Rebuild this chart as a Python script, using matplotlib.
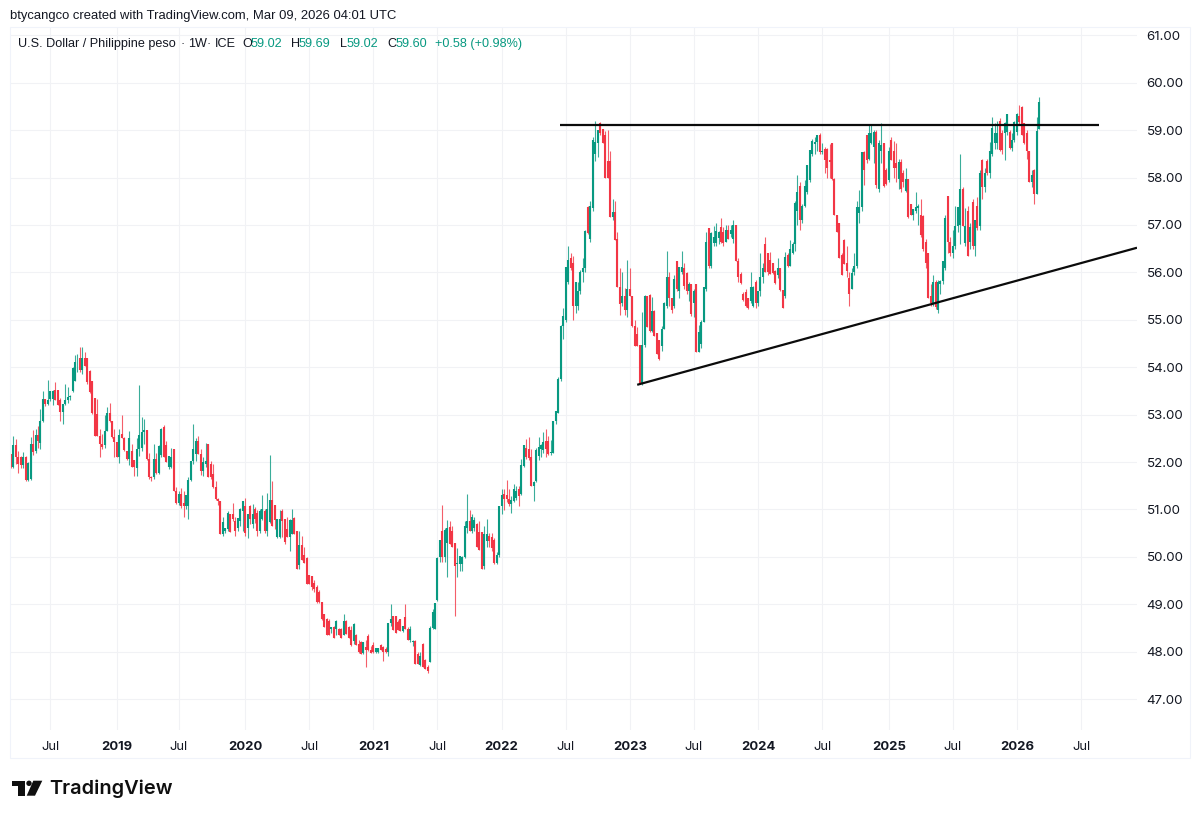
import matplotlib
matplotlib.use("Agg")
import matplotlib.pyplot as plt
from matplotlib.patches import Polygon, Circle, Rectangle

opens = [
52.17,51.90,52.36,52.11,52.10,51.94,52.10,51.62,51.65,52.38,
52.24,52.58,52.40,52.87,53.33,53.22,53.32,53.32,53.51,53.52,
53.30,53.05,53.23,53.30,53.37,53.50,53.70,54.10,54.20,53.95,
54.20,54.20,53.93,53.72,53.35,53.01,52.56,52.38,52.35,52.66,
53.04,52.87,52.52,52.42,52.10,52.59,52.50,52.24,52.06,52.24,
52.05,51.87,52.27,52.30,52.63,52.68,52.06,51.68,51.68,52.06,
51.76,52.15,52.73,52.35,51.90,51.90,52.27,51.40,51.13,51.32,
51.13,51.08,51.08,51.63,52.03,52.17,52.45,52.17,51.82,51.96,
52.38,51.95,51.75,51.47,51.22,51.18,50.48,50.55,50.58,50.90,
50.90,50.76,50.60,50.76,50.97,51.08,50.60,51.08,50.70,51.00,
50.92,50.54,50.80,50.96,50.55,50.73,51.19,51.10,50.42,50.42,
50.96,50.80,50.58,50.42,50.49,50.83,50.54,49.82,50.26,50.03,
49.98,49.62,49.60,49.46,49.36,49.27,49.05,48.80,48.70,48.65,
48.48,48.53,48.48,48.48,48.48,48.36,48.65,48.53,48.46,48.23,
48.35,48.16,48.20,47.97,48.09,48.34,48.03,48.15,47.99,48.00,
48.14,48.09,48.06,48.00,48.60,48.75,48.75,48.63,48.70,48.43,
48.73,48.48,48.25,48.20,48.22,47.95,47.72,48.16,47.82,47.67,
47.78,48.50,48.48,49.09,50.00,50.55,50.00,50.30,50.63,50.55,
50.30,49.85,49.85,49.85,50.00,50.62,50.76,50.55,50.60,50.70,
50.53,50.53,49.80,50.33,50.45,50.42,50.36,49.88,50.03,51.08,
51.32,51.31,51.22,51.12,51.18,51.25,51.43,51.32,51.92,52.30,
52.27,52.10,51.50,51.60,52.13,52.27,52.25,52.44,52.44,52.20,
52.20,52.86,53.04,53.75,54.88,55.00,55.80,56.30,56.20,55.30,
55.30,55.60,56.00,56.10,57.38,56.70,57.35,58.50,58.72,59.15,
59.03,58.90,58.35,58.35,57.17,57.27,56.70,55.69,55.35,55.50,
55.20,55.65,55.50,54.88,54.70,54.47,53.65,54.46,55.50,55.52,
54.76,55.18,54.72,54.57,54.44,54.80,55.30,55.90,55.45,55.30,
56.23,55.60,56.00,56.10,55.98,55.60,55.75,55.35,55.75,54.33,
54.50,54.95,55.65,56.94,56.13,56.62,56.62,56.72,56.95,56.85,
56.65,56.90,56.80,56.70,57.00,56.25,55.97,55.55,55.58,55.47,
55.40,55.30,55.80,55.35,55.60,55.90,56.60,56.40,56.27,56.20,
56.02,55.95,56.10,55.62,55.50,56.36,56.14,56.40,56.60,57.30,
57.83,57.10,57.40,57.70,57.95,58.50,58.70,58.75,58.90,58.53,
58.60,58.60,58.37,58.72,57.98,57.20,57.05,56.37,56.68,56.20,
55.88,55.65,56.00,56.13,57.25,57.38,58.54,58.90,58.40,58.72,
58.65,58.97,57.75,58.55,58.72,58.15,57.95,58.80,58.55,58.30,
57.97,58.33,58.10,57.72,57.97,57.45,57.20,57.30,57.35,57.20,
57.18,56.65,56.40,55.50,55.35,55.80,55.20,55.75,55.82,56.10,
57.62,56.65,56.40,56.55,56.97,57.00,57.75,56.62,57.30,56.65,
57.48,56.55,57.40,56.97,58.37,57.80,58.35,58.10,58.50,58.72,
58.72,59.20,58.93,58.93,58.97,58.97,58.62,58.80,58.97,59.30,
59.48,59.14,58.93,58.55,57.90,58.15,57.65,59.02]

closes = [
51.90,52.36,52.11,51.96,51.94,52.10,51.62,51.98,52.38,52.22,
52.58,52.45,52.87,53.33,53.22,53.30,53.50,53.50,53.30,53.20,
53.05,53.23,53.30,53.37,53.40,53.98,54.10,54.10,53.95,54.20,
54.03,53.68,53.47,53.03,52.56,52.56,52.38,52.31,52.66,53.03,
52.87,52.52,52.42,52.10,52.58,52.50,52.25,52.06,52.50,51.90,
51.89,52.27,52.58,52.63,52.68,52.06,51.68,51.67,52.06,51.76,
52.34,52.70,52.10,52.00,52.13,52.10,51.40,51.13,51.32,51.08,
51.08,51.30,51.63,52.03,52.27,52.44,52.17,51.82,52.00,52.03,
51.68,51.68,51.47,51.22,51.18,50.48,50.73,50.60,50.93,50.52,
50.80,50.55,50.83,51.00,51.18,50.50,50.90,50.80,50.90,50.80,
50.54,50.96,51.00,50.54,51.00,51.19,50.66,50.77,50.80,50.80,
50.75,50.31,50.42,50.77,50.77,50.49,49.75,50.26,49.94,49.88,
49.43,49.43,49.36,49.32,49.04,49.04,48.69,48.53,48.35,48.35,
48.53,48.30,48.65,48.36,48.30,48.65,48.37,48.30,48.14,48.58,
48.15,47.99,47.96,48.20,48.03,48.03,47.98,47.99,48.08,48.08,
48.04,48.00,48.00,48.60,48.70,48.46,48.40,48.46,48.43,48.55,
48.48,48.25,48.48,48.22,47.75,47.75,47.90,47.67,47.64,47.60,
48.50,48.84,49.02,49.98,50.35,50.00,50.57,50.60,50.27,50.20,
49.80,49.88,50.02,50.00,50.66,50.76,50.55,50.85,50.77,50.20,
50.15,49.75,50.48,50.48,50.33,50.18,49.88,50.03,51.07,51.31,
51.22,51.22,51.11,51.20,51.43,51.40,51.29,51.94,52.35,52.10,
52.09,51.50,51.59,52.25,52.31,52.35,52.42,52.27,52.17,52.22,
52.87,53.07,53.75,54.88,55.07,56.11,56.27,56.10,55.30,55.80,
55.60,56.00,56.10,56.87,56.83,57.40,58.80,58.75,59.00,58.93,
58.72,58.00,58.00,57.17,57.27,56.68,55.70,55.34,55.50,55.20,
55.65,55.50,54.88,54.44,54.45,53.65,54.46,55.50,54.85,54.76,
55.18,54.65,54.28,54.17,54.80,55.35,55.90,55.45,55.20,55.87,
55.65,56.12,56.12,55.72,55.60,55.75,55.12,55.60,54.33,54.75,
54.95,55.70,56.65,56.13,56.83,56.75,56.87,56.85,56.65,56.63,
56.90,56.70,56.90,57.00,56.25,55.90,55.78,55.41,55.30,55.25,
55.70,55.70,55.35,55.60,55.90,56.10,56.00,56.00,55.97,55.98,
55.78,56.10,55.62,55.25,56.32,56.14,56.50,56.60,57.46,57.70,
57.10,57.40,57.83,58.27,58.58,58.78,58.75,58.90,58.53,58.56,
58.37,58.20,58.33,57.96,57.20,56.85,56.30,55.95,56.17,56.03,
55.55,55.99,56.13,57.38,57.38,58.54,58.15,58.37,58.93,58.93,
58.97,57.85,58.72,58.68,57.83,57.87,58.55,58.38,58.20,58.20,
58.33,57.75,57.90,57.97,57.17,57.22,57.33,57.38,57.40,56.78,
56.50,56.20,55.45,55.35,55.80,55.27,55.80,55.82,56.25,57.15,
56.65,56.40,56.55,56.97,57.38,57.75,56.98,56.97,56.35,56.95,
56.55,57.10,56.93,58.10,57.80,58.10,58.10,58.55,59.05,58.93,
58.93,58.58,58.58,59.14,59.35,58.62,58.80,59.18,59.35,59.18,
58.90,58.72,58.55,57.90,58.05,57.65,58.99,59.60]

highs = [
52.17,52.55,52.49,52.24,52.12,52.22,52.12,52.00,52.53,52.67,
52.70,52.76,53.12,53.50,53.33,53.73,53.50,53.52,53.68,53.52,
53.35,53.23,53.65,53.58,53.42,54.00,54.25,54.27,54.42,54.42,
54.32,54.20,53.95,53.72,53.35,53.33,52.70,52.60,53.00,53.16,
53.24,52.87,52.70,52.42,52.70,53.00,52.52,52.24,52.66,52.38,
52.05,52.50,53.62,52.95,52.90,52.68,52.20,51.70,52.38,52.20,
52.36,52.72,52.78,52.45,52.13,52.30,52.27,51.48,51.40,51.46,
51.38,51.30,51.68,52.03,52.80,52.50,52.56,52.27,52.10,52.40,
52.38,52.03,51.95,51.60,51.25,51.18,50.85,50.60,50.97,50.90,
51.13,50.85,50.83,51.03,51.18,51.25,50.90,51.10,51.12,51.05,
50.98,51.00,51.30,51.00,51.35,52.14,51.61,51.10,50.80,50.98,
51.00,50.80,50.85,50.80,51.00,50.85,50.54,50.55,50.45,50.20,
50.00,49.62,49.60,49.52,49.40,49.30,49.05,48.80,48.72,48.70,
48.53,48.55,48.68,48.50,48.50,48.80,48.67,48.55,48.55,48.60,
48.37,48.25,48.22,48.20,48.25,48.37,48.12,48.20,48.08,48.08,
48.17,48.12,48.10,48.60,49.00,48.75,48.75,48.67,48.70,48.55,
49.00,48.53,48.55,48.25,48.25,48.00,48.00,48.18,47.85,47.72,
48.55,48.90,49.02,50.00,50.35,51.10,50.60,50.77,50.75,50.65,
50.30,50.18,50.02,50.02,50.76,51.33,50.98,50.90,50.85,50.72,
50.75,50.53,50.66,50.80,50.50,50.50,50.40,50.10,51.08,51.43,
51.43,51.62,51.43,51.29,51.54,51.50,51.50,52.06,52.35,52.49,
52.53,52.28,51.60,52.30,52.53,52.38,52.63,52.70,52.56,52.46,
52.87,53.08,53.80,54.90,55.25,56.11,56.55,56.40,56.35,55.80,
55.80,56.05,56.30,56.90,57.40,57.50,58.85,59.20,59.00,59.17,
59.03,58.98,59.00,58.55,57.55,57.50,56.85,56.10,56.00,55.68,
56.27,56.10,55.50,55.00,54.85,54.47,55.17,55.52,55.50,55.55,
55.48,55.20,54.73,54.57,54.87,55.38,56.45,56.00,55.45,55.95,
56.23,56.12,56.45,56.20,56.00,55.80,55.75,55.65,55.75,54.90,
55.00,55.70,56.85,56.94,56.85,56.98,57.05,56.88,57.15,56.95,
57.00,57.00,57.00,57.10,57.00,56.30,56.00,55.58,55.65,55.47,
56.00,55.72,55.85,55.60,56.40,56.20,56.75,56.40,56.42,56.20,
56.05,56.30,56.10,55.60,56.43,56.40,56.68,56.65,57.50,58.05,
57.90,57.45,57.95,58.27,58.58,58.82,58.85,58.90,58.95,58.72,
58.65,58.62,58.70,58.72,58.00,57.20,57.05,56.40,56.70,56.55,
56.00,56.10,56.40,57.50,57.73,58.54,58.55,58.90,59.10,59.10,
59.00,59.00,58.80,59.15,58.72,58.20,58.65,58.85,58.78,58.72,
58.40,58.40,58.15,58.20,57.97,57.45,57.33,57.70,57.45,57.55,
57.20,56.70,56.40,55.75,55.95,55.85,55.85,55.85,56.25,57.20,
57.62,56.75,56.90,57.40,57.38,58.50,57.80,57.35,57.40,57.05,
57.55,57.10,57.60,58.15,58.40,58.20,58.40,58.75,59.27,59.15,
59.20,59.25,59.00,59.17,59.35,59.00,58.95,59.20,59.37,59.52,
59.50,59.15,59.00,58.55,58.15,58.18,59.28,59.69]

lows = [
51.88,51.88,51.95,51.78,51.88,51.88,51.60,51.60,51.62,52.15,
52.20,52.30,52.28,52.85,53.18,53.20,53.28,53.20,53.30,53.20,
52.87,52.80,53.20,53.25,53.30,53.47,53.70,53.90,53.90,53.85,
54.03,53.65,53.45,53.02,52.55,52.55,52.10,52.28,52.30,52.66,
52.85,52.50,52.10,52.10,51.98,52.50,52.24,52.04,51.93,51.89,
51.70,51.70,52.12,52.24,52.38,52.05,51.65,51.60,51.65,51.75,
51.75,52.10,52.10,52.00,51.85,51.88,51.40,51.12,51.10,51.03,
50.85,51.00,50.80,51.60,51.95,52.03,52.17,51.73,51.70,51.90,
51.68,51.65,51.45,51.20,51.10,50.48,50.45,50.50,50.55,50.52,
50.75,50.45,50.55,50.65,50.55,50.45,50.40,50.70,50.62,50.72,
50.45,50.50,50.78,50.50,50.45,50.72,50.66,50.58,50.40,50.40,
50.42,50.28,50.42,50.13,50.49,50.48,49.75,49.75,49.94,49.88,
49.43,49.42,49.30,49.25,49.02,49.02,48.68,48.53,48.35,48.35,
48.40,48.30,48.35,48.35,48.30,48.35,48.37,48.30,48.12,48.16,
48.14,47.98,47.95,47.95,47.67,48.02,47.98,47.98,47.97,47.97,
48.03,47.80,47.98,47.90,48.55,48.46,48.40,48.46,48.43,48.42,
48.48,48.25,48.20,48.13,47.75,47.75,47.70,47.67,47.63,47.55,
47.78,48.48,48.48,49.08,49.90,49.90,49.90,49.57,50.27,50.20,
48.76,49.57,49.70,49.70,49.98,50.50,50.55,50.50,50.55,50.20,
50.15,49.75,49.75,50.20,50.20,50.13,49.85,49.85,50.00,50.90,
50.98,51.15,51.08,50.93,51.15,51.20,51.08,51.30,51.90,52.06,
52.05,51.50,51.18,51.58,52.05,52.10,52.20,52.10,52.15,52.15,
52.20,52.80,53.04,53.72,54.60,54.95,55.75,56.05,55.00,55.15,
55.20,55.55,55.80,56.00,56.80,56.65,57.30,58.35,58.43,58.90,
58.72,58.00,58.00,57.17,57.10,56.68,55.69,55.10,55.30,55.10,
55.05,55.50,54.85,54.44,54.45,53.65,53.62,54.42,54.85,54.75,
54.75,54.65,54.28,54.15,54.35,54.80,55.25,55.30,55.15,55.25,
55.60,55.45,55.97,55.65,55.55,55.40,55.07,55.05,54.32,54.32,
54.40,54.95,55.60,56.10,56.10,56.55,56.55,56.60,56.62,56.55,
56.65,56.70,56.75,56.63,56.25,55.80,55.75,55.40,55.28,55.23,
55.35,55.27,55.25,55.30,55.50,55.78,56.00,55.95,55.97,55.97,
55.75,55.88,55.60,55.25,55.45,56.12,56.13,56.38,56.45,57.00,
56.90,57.05,57.38,57.65,57.90,58.45,58.50,58.55,58.50,58.50,
58.10,58.00,58.00,57.95,57.20,56.85,56.30,55.95,56.17,55.90,
55.30,55.65,55.95,56.10,57.05,57.30,57.85,58.30,58.38,58.70,
58.30,57.77,57.70,58.30,57.80,57.85,57.90,58.37,58.00,57.90,
57.75,57.70,57.80,57.70,57.15,57.20,57.10,57.25,57.00,56.75,
56.45,56.10,55.45,55.30,55.30,55.22,55.15,55.55,55.75,56.05,
56.40,56.35,56.30,56.50,56.85,56.60,56.97,56.55,56.35,56.50,
56.50,56.35,56.90,56.90,57.55,57.70,58.05,58.00,58.45,58.60,
58.60,58.55,58.50,58.37,58.90,58.60,58.55,58.75,58.90,59.10,
58.90,58.70,58.40,57.90,57.80,57.45,57.65,59.02]

y_ticks = list(range(47, 62))
x_tick_weeks = [16, 43, 68, 95, 121, 147, 173, 199, 225, 251, 277, 303, 329, 356, 382, 408, 434]
x_tick_labels = ["Jul", "2019", "Jul", "2020", "Jul", "2021", "Jul", "2022", "Jul",
                 "2023", "Jul", "2024", "Jul", "2025", "Jul", "2026", "Jul"]

resistance_weeks = [222.7, 441.3]
resistance_prices = [59.11, 59.11]
support_weeks = [254.0, 456.7]
support_prices = [53.63, 56.52]

UP = "#089981"
DOWN = "#F23645"
GRID = "#F1F2F5"
TEXT = "#131722"

W, H = 1200, 819
fig = plt.figure(figsize=(W / 100, H / 100), dpi=100, facecolor="white")
L, R, T, B = 10, 1137, 27, 730
ax = fig.add_axes([L / W, 1 - B / H, (R - L) / W, (B - T) / H])
ax.set_xlim(-0.365, 456.7)
ax.set_ylim(46.35, 61.175)
ax.set_axisbelow(True)
ax.grid(True, color=GRID, lw=0.75)
for s in ax.spines.values():
    s.set_visible(False)

ax.yaxis.tick_right()
ax.set_yticks(y_ticks)
ax.set_yticklabels([f"{v:.2f}" for v in y_ticks], fontfamily="Inter", fontsize=9.6, color=TEXT)
ax.set_xticks(x_tick_weeks)
ax.set_xticklabels(x_tick_labels, fontfamily="Inter", fontsize=9.4, color=TEXT)
for lab in ax.get_xticklabels():
    if lab.get_text() != "Jul":
        lab.set_fontweight("bold")
ax.tick_params(axis="y", length=0, pad=7)
ax.tick_params(axis="x", length=0, pad=8)

weeks = list(range(len(closes)))
colors = [UP if c >= o else DOWN for o, c in zip(opens, closes)]
ax.vlines(weeks, lows, highs, colors=colors, lw=0.8, alpha=0.8, zorder=2)
ax.vlines(weeks, [min(o, c) for o, c in zip(opens, closes)],
          [max(o, c) for o, c in zip(opens, closes)], colors=colors, lw=1.5, zorder=3)

ax.plot(resistance_weeks, resistance_prices, color="#0B0B0B", lw=1.6, zorder=5, solid_capstyle="butt")
ax.plot(support_weeks, support_prices, color="#0B0B0B", lw=1.6, zorder=5, solid_capstyle="butt")

# overlay in pixel coordinates for header, frame and logo
ov = fig.add_axes([0, 0, 1, 1], zorder=10)
ov.set_xlim(0, W)
ov.set_ylim(H, 0)
ov.axis("off")
ov.patch.set_alpha(0)
ov.add_patch(Rectangle((10, 27), 1180, 731, fill=False, ec="#F0F3FA", lw=0.8))

HF = "Liberation Sans"
ov.text(10, 16, "btycangco created with TradingView.com, Mar 09, 2026 04:01 UTC",
        fontfamily=HF, fontsize=9.36, color=TEXT, va="center", ha="left")
legend_parts = [(18, "U.S. Dollar / Philippine peso", TEXT), (181, "·", TEXT), (188, "1W", TEXT),
                (207, "·", TEXT), (215, "ICE", TEXT),
                (242.5, "O", TEXT), (251, "59.02", UP), (291, "H", TEXT), (299, "59.69", UP),
                (340, "L", TEXT), (346.5, "59.02", UP), (387, "C", TEXT), (396, "59.60", UP),
                (435, "+0.58 (+0.98%)", UP)]
for x, s, c in legend_parts:
    ov.text(x, 44, s, fontfamily=HF, fontsize=9.1, color=c, va="center", ha="left")

LOGO = "#0F0F0F"
ov.add_patch(Polygon([(12, 780.7), (25, 780.7), (25, 795.7), (18.3, 795.7), (18.3, 785.7), (12, 785.7)],
                     closed=True, fc=LOGO, ec="none"))
ov.add_patch(Circle((29, 783.3), 2.7, fc=LOGO, ec="none"))
ov.add_patch(Polygon([(33.3, 780.7), (42.3, 780.7), (35, 795.7), (26.7, 795.7)], closed=True, fc=LOGO, ec="none"))
ov.text(49.5, 788.5, "TradingView", fontfamily="Inter", fontweight="semibold", fontsize=14.4,
        color=LOGO, va="center", ha="left")

fig.savefig("out.png", dpi=100, facecolor="white")
